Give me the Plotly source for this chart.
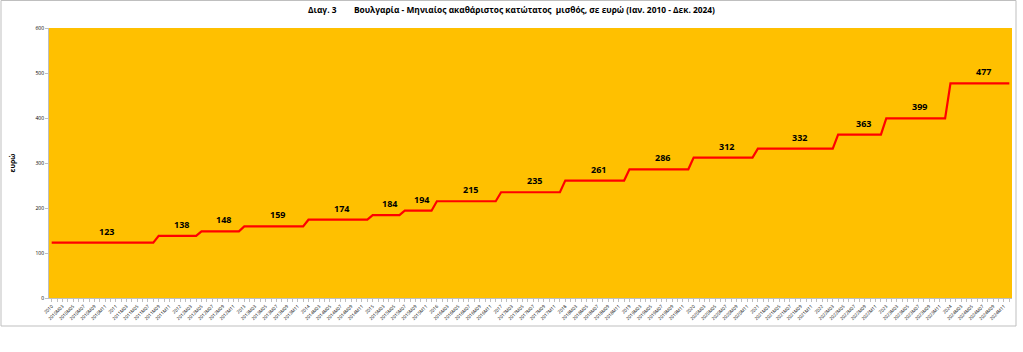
import plotly.graph_objects as go

# --- data ---
levels = [123, 138, 148, 159, 174, 184, 194, 215, 235, 261, 286, 312, 332, 363, 399, 477]
months_at_level = [20, 8, 8, 12, 12, 6, 6, 12, 12, 12, 12, 12, 15, 9, 12, 12]
years = list(range(2010, 2025))

# monthly categories
month_labels = []
for y in years:
    for m in range(1, 13):
        month_labels.append(str(y) if m == 1 else f"{y}M{m:02d}")

wage = []
for v, n in zip(levels, months_at_level):
    wage.extend([v] * n)

x_idx = list(range(len(month_labels)))

font = "Open Sans"

fig = go.Figure()
fig.add_trace(go.Scatter(x=x_idx, y=wage, mode="lines",
                         line=dict(color="#FF0000", width=2.2), hoverinfo="y"))

# value labels: middle of each level segment
start = 0
for v, n in zip(levels, months_at_level):
    fig.add_annotation(x=start + (n - 1) / 2 + 0.7, y=v, text=f"<b>{v}</b>",
                       showarrow=False, yanchor="bottom", yshift=3,
                       font=dict(family=font, size=9, color="#000000"))
    start += n

tickvals = x_idx[::2]
ticktext = month_labels[::2]

fig.update_layout(
    width=1023, height=352,
    margin=dict(l=49, r=11, t=28, b=54),
    paper_bgcolor="white",
    plot_bgcolor="#FFC000",
    showlegend=False,
    font=dict(family=font, color="#000000"),
    title=dict(
        text="<b>Διαγ. 3        Βουλγαρία - Μηνιαίος ακαθάριστος κατώτατος  μισθός, σε ευρώ (Ιαν. 2010 - Δεκ. 2024)</b>",
        x=0.5, xanchor="center", y=0.972, yanchor="middle",
        font=dict(family=font, size=8.4, color="#000000")),
    xaxis=dict(
        range=[-0.5, len(month_labels) - 0.5],
        tickmode="array", tickvals=tickvals, ticktext=ticktext,
        tickangle=-45, tickfont=dict(family=font, size=4.5, color="#000000"),
        showgrid=False, zeroline=False,
        ticks="outside", ticklen=3, tickcolor="#BFBFBF",
        minor=dict(dtick=1, tick0=0, ticks="outside", ticklen=3, tickcolor="#BFBFBF"),
        showline=True, linecolor="#BFBFBF", linewidth=1,
    ),
    yaxis=dict(
        range=[0, 600], dtick=100,
        tickfont=dict(family=font, size=5, color="#000000"),
        showgrid=False, zeroline=False,
        ticks="outside", ticklen=3, tickcolor="#BFBFBF",
        showline=True, linecolor="#BFBFBF",
        title=dict(text="<b>ευρώ</b>", font=dict(family=font, size=7), standoff=18),
    ),
)

# chart frame
fig.add_shape(type="rect", xref="paper", yref="paper",
              x0=-48 / 963, x1=(1016 - 49) / 963,
              y0=(352 - 54 - 326) / 270, y1=(352 - 54 - 0.5) / 270,
              line=dict(color="#BFBFBF", width=1), layer="below")

fig.write_html("out.html")
